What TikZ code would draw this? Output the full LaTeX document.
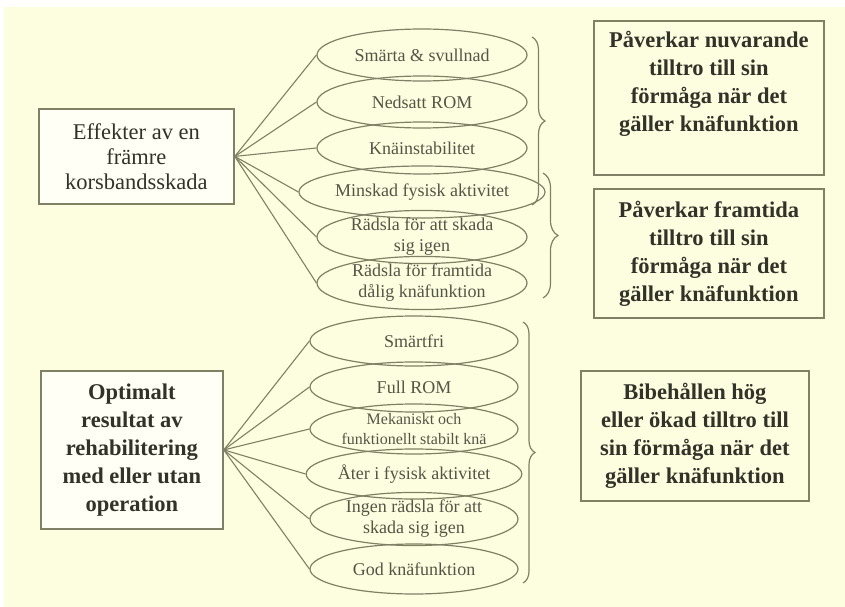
\documentclass[tikz,border=0pt]{standalone}
\usepackage{fontspec}
\setmainfont{Liberation Serif}
\newfontfamily\tnr{Liberation Serif}
\usetikzlibrary{shapes.geometric,decorations.pathreplacing}
\definecolor{bgc}{RGB}{253,253,224}
\definecolor{linec}{RGB}{128,128,100}
\definecolor{txtc}{RGB}{50,50,40}
\definecolor{etxtc}{RGB}{85,85,70}
\definecolor{lboxfill}{RGB}{255,255,246}
\begin{document}
\begin{tikzpicture}[x=1pt,y=-1pt,
  every node/.style={text=txtc},
  conn/.style={draw=linec,line width=1.1pt},
  ell/.style={ellipse,draw=linec,line width=1.2pt,inner sep=0pt,minimum width=210pt,minimum height=52pt,align=center,text=etxtc,font=\tnr\fontsize{18}{21}\selectfont},
  ellb/.style={ell,minimum width=208pt,minimum height=50pt},
  lbox/.style={rectangle,draw=linec,line width=1.8pt,fill=lboxfill,inner sep=0pt,anchor=north west},
  rbox/.style={rectangle,draw=linec,line width=1.8pt,fill=bgc,inner sep=0pt,anchor=north west},
  bigtxt/.style={align=center,font=\tnr\bfseries\fontsize{22.5}{28}\selectfont},
  midtxt/.style={align=center,font=\tnr\fontsize{22.5}{25}\selectfont},
  bracestyle/.style={draw=linec,line width=1.2pt,decorate,decoration={brace,amplitude=#1}}
]
\useasboundingbox (0,0) rectangle (845,607);
\fill[white] (0,0) rectangle (845,607);
\fill[bgc] (4,7) rectangle (845,607);

% left boxes
\node[lbox,minimum width=195pt,minimum height=95pt] (L1) at (38,108) {};
\node[midtxt] (L1t) at (L1.center) {Effekter av en\\främre\\korsbandsskada};
\node[lbox,minimum width=182pt,minimum height=158pt] (L2) at (40,370) {};
\node[bigtxt] (L2t) at (L2.center) {Optimalt\\resultat av\\rehabilitering\\med eller utan\\operation};

\coordinate (e1c) at (422,55);
\coordinate (e2c) at (422,102);
\coordinate (e3c) at (422,148);
\coordinate (e4c) at (422,192);
\coordinate (e5c) at (422,237);
\coordinate (e6c) at (422,283);
\coordinate (f1c) at (414,341);
\coordinate (f2c) at (414,387);
\coordinate (f3c) at (414,429);
\coordinate (f4c) at (414,474);
\coordinate (f5c) at (414,519);
\coordinate (f6c) at (414,569);

\node[ell] (e1) at (e1c) {Smärta \& svullnad};
\node[ell] (e2) at (e2c) {Nedsatt ROM};
\node[ell] (e3) at (e3c) {Knäinstabilitet};
\node[ell] (e4) at (e4c) {Minskad fysisk aktivitet};
\node[ell] (e5) at (e5c) {Rädsla för att skada\\sig igen};
\node[ell] (e6) at (e6c) {Rädsla för framtida\\dålig knäfunktion};

\node[ellb] (f1) at (f1c) {Smärtfri};
\node[ellb] (f2) at (f2c) {Full ROM};
\node[ellb,font=\tnr\fontsize{16}{20}\selectfont] (f3) at (f3c) {Mekaniskt och\\funktionellt stabilt knä};
\node[ellb] (f4) at (f4c) {Åter i fysisk aktivitet};
\node[ellb] (f5) at (f5c) {Ingen rädsla för att\\skada sig igen};
\node[ellb] (f6) at (f6c) {God knäfunktion};

\foreach \n in {e1,e2,e3,e4,e5,e6}{\draw[conn] (L1.east) -- (\n.west);}
\foreach \n in {f1,f2,f3,f4,f5,f6}{\draw[conn] (L2.east) -- (\n.west);}

\coordinate (b1s) at (532,37);
\coordinate (b1e) at (532,205);
\coordinate (b2s) at (543,173);
\coordinate (b2e) at (543,298);
\coordinate (b3s) at (523,322);
\coordinate (b3e) at (523,583);
\draw[bracestyle=13pt] (b1s) -- (b1e);
\draw[bracestyle=15pt] (b2s) -- (b2e);
\draw[bracestyle=12pt] (b3s) -- (b3e);

\node[rbox,minimum width=230pt,minimum height=154pt] (R1) at (593,20) {};
\node[bigtxt,anchor=north] (R1t) at ([yshift=-8pt]R1.north) {Påverkar nuvarande\\tilltro till sin\\förmåga när det\\gäller knäfunktion};
\node[rbox,minimum width=230pt,minimum height=129pt] (R2) at (593,188) {};
\node[bigtxt] (R2t) at (R2.center) {Påverkar framtida\\tilltro till sin\\förmåga när det\\gäller knäfunktion};
\node[rbox,minimum width=228pt,minimum height=130pt] (R3) at (580,370) {};
\node[bigtxt] (R3t) at (R3.center) {Bibehållen hög\\eller ökad tilltro till\\sin förmåga när det\\gäller knäfunktion};
\end{tikzpicture}
\end{document}
